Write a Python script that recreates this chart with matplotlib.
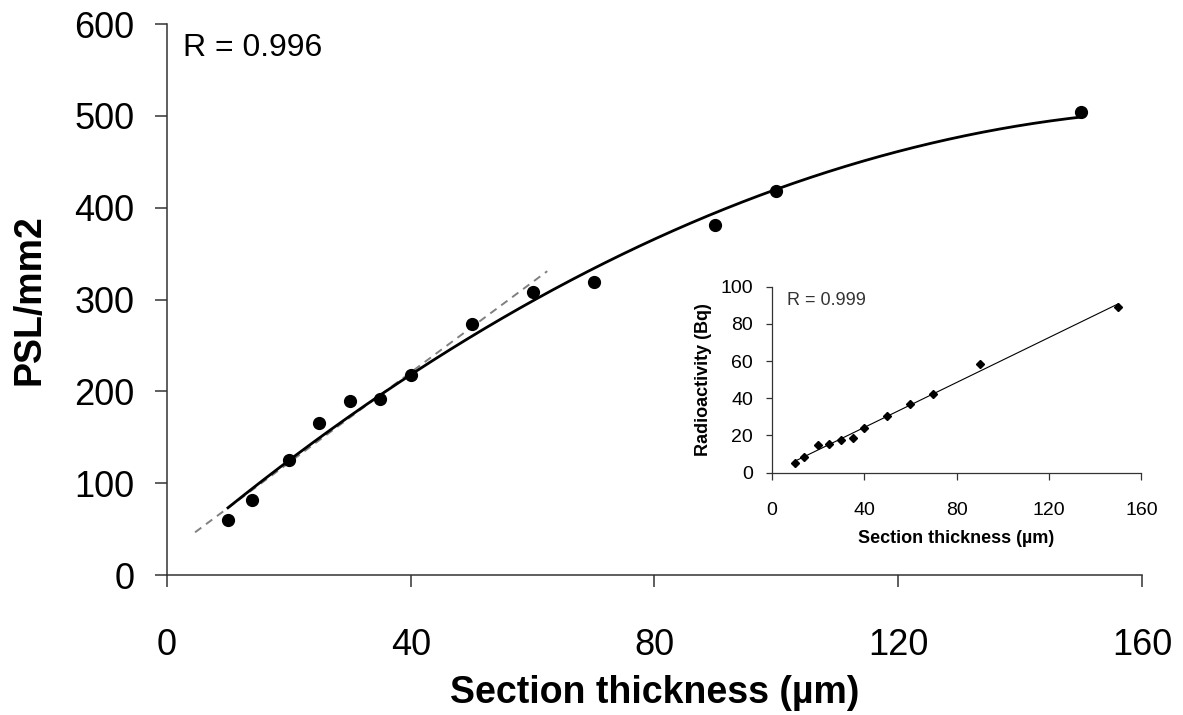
import numpy as np
import matplotlib
matplotlib.use('Agg')
import matplotlib.pyplot as plt

plt.rcParams['font.family'] = ['Liberation Sans', 'DejaVu Sans']

# main chart: PSL per mm2 vs section thickness
thick = [10, 14, 20, 25, 30, 35, 40, 50, 60, 70, 90, 100, 150]
psl = [60, 82, 125, 165, 189, 192, 218, 273, 308, 319, 381, 418, 504]

# inset: radioactivity vs section thickness
thick_ins = [10, 14, 20, 25, 30, 35, 40, 50, 60, 70, 90, 150]
bq = [5, 8.2, 15, 15.2, 17.4, 18.8, 24, 30.3, 37.1, 42.3, 58.2, 89]

r_main = 'R = 0.996'
r_ins = 'R = 0.999'

fig = plt.figure(figsize=(11.83, 7.15), dpi=100)
ax = fig.add_axes([0.1412, 0.1958, 0.8241, 0.7706])

# quadratic trend over all points
c2 = np.polyfit(thick, psl, 2)
xs = np.linspace(min(thick), max(thick), 200)
ax.plot(xs, np.polyval(c2, xs), color='black', lw=2.0, zorder=2)

# linear trend over the thin sections (<= 60 um)
thin = [i for i, t in enumerate(thick) if t <= 60]
c1 = np.polyfit([thick[i] for i in thin], [psl[i] for i in thin], 1)
xl = np.array([4.6, 62.4])
ax.plot(xl, np.polyval(c1, xl), color='#808080', lw=1.4, ls=(0, (4, 3)), zorder=1)

ax.plot(thick, psl, 'o', color='black', ms=8.5, zorder=3)

ax.set_xlim(0, 160)
ax.set_ylim(0, 600)
ax.set_xticks([0, 40, 80, 120, 160])
ax.set_yticks(range(0, 601, 100))
for s in ['top', 'right']:
    ax.spines[s].set_visible(False)
for s in ['left', 'bottom']:
    ax.spines[s].set_linewidth(1.1)
    ax.spines[s].set_color('#333333')
ax.tick_params(axis='y', direction='out', length=8.5, width=1.1, pad=15, labelsize=26, colors='#333333', labelcolor='black')
ax.tick_params(axis='x', direction='out', length=8.5, width=1.1, pad=30, labelsize=26, colors='#333333', labelcolor='black')
ax.set_xlabel('Section thickness (µm)', fontsize=27, fontweight='bold', labelpad=8)
ax.set_ylabel('PSL/mm2', fontsize=27, fontweight='bold', labelpad=19)
ax.text(0.0164, 0.956, r_main, transform=ax.transAxes, fontsize=23, va='center', ha='left')

# inset
axi = fig.add_axes([0.6523, 0.3389, 0.3126, 0.2601])
ci = np.polyfit(thick_ins, bq, 1)
xi = np.array([min(thick_ins), max(thick_ins)])
axi.plot(xi, np.polyval(ci, xi), color='black', lw=0.8, zorder=1)
axi.plot(thick_ins, bq, 'D', color='black', ms=4, zorder=2)
axi.set_xlim(0, 160)
axi.set_ylim(0, 100)
axi.set_xticks([0, 40, 80, 120, 160])
axi.set_yticks(range(0, 101, 20))
for s in ['top', 'right']:
    axi.spines[s].set_visible(False)
for s in ['left', 'bottom']:
    axi.spines[s].set_linewidth(0.9)
    axi.spines[s].set_color('#333333')
axi.tick_params(axis='y', direction='out', length=4.5, width=0.9, pad=9, labelsize=14, colors='#333333', labelcolor='black')
axi.tick_params(axis='x', direction='out', length=5, width=0.9, pad=16, labelsize=14, colors='#333333', labelcolor='black')
axi.set_xlabel('Section thickness (µm)', fontsize=13, fontweight='bold', labelpad=8)
axi.set_ylabel('Radioactivity (Bq)', fontsize=13, fontweight='bold', labelpad=6)
axi.text(0.0415, 0.928, r_ins, transform=axi.transAxes, fontsize=13, va='center', ha='left', color='#333333')

fig.savefig('out.png', dpi=100)
